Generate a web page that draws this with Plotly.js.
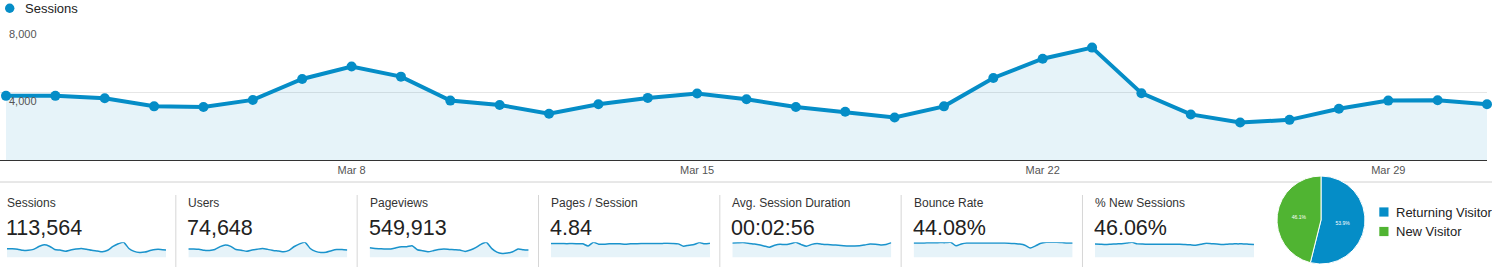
<!DOCTYPE html>
<html>
<head>
<meta charset="utf-8">
<script src="https://cdn.plot.ly/plotly-3.0.1.min.js"></script>
<style>
  html, body { margin: 0; padding: 0; background: #fff; }
  #chart { width: 1492px; height: 275px; }
</style>
</head>
<body>
<div id="chart"></div>
<script>
// ---------------- DATA ----------------
const dates = [
  '2015-03-01','2015-03-02','2015-03-03','2015-03-04','2015-03-05','2015-03-06','2015-03-07',
  '2015-03-08','2015-03-09','2015-03-10','2015-03-11','2015-03-12','2015-03-13','2015-03-14',
  '2015-03-15','2015-03-16','2015-03-17','2015-03-18','2015-03-19','2015-03-20','2015-03-21',
  '2015-03-22','2015-03-23','2015-03-24','2015-03-25','2015-03-26','2015-03-27','2015-03-28',
  '2015-03-29','2015-03-30','2015-03-31'
];
const sessions = [3800,3800,3660,3180,3140,3560,4800,5540,4940,3520,3260,2740,3300,3680,3940,3600,3140,2860,2520,3180,4860,6000,6660,3960,2700,2220,2380,3040,3520,3540,3300];
const users = [2500,2490,2400,2080,2050,2330,3160,3650,3250,2310,2140,1790,2160,2410,2590,2360,2060,1870,1650,2090,3200,3960,4420,2610,1770,1450,1560,1990,2310,2330,2170];
const pageviews = [19980,18600,17910,17225,17225,19980,22050,22050,24110,15850,13780,11710,13780,16540,17225,16540,15850,15160,12400,15160,19980,26870,31000,18600,11020,8270,8960,11710,17225,15850,15160];
const pagesPerSession = [4.87,4.87,4.87,4.82,4.87,4.82,4.76,4.0,5.3,4.65,4.6,4.76,4.82,4.76,4.6,4.76,4.82,4.87,4.87,4.87,4.87,4.92,4.98,4.92,4.76,3.9,4.3,4.55,5.2,4.76,4.98];
const avgDurationSec = [189,191,193,186,176,166,150,133,158,172,167,180,197,167,146,170,180,172,167,163,158,153,150,150,152,163,176,172,163,168,193];
const bounceRate = [45.5,45.5,45.5,46,46,46.5,46.5,47.5,36.4,42.4,45.5,45.5,45.5,45.5,45.5,45.5,45.5,45,44.5,43.5,42,38.4,29.3,36.4,44.5,47.5,47.5,47.5,46.5,45.5,45.5];
const newSessionsPct = [45.7,44.6,43.6,44.6,45.7,46.5,48.5,51,45.7,45,44.6,44.6,44.6,44.6,44.6,44.6,44.6,43.6,42.5,41.4,44.6,47.8,46.5,45.7,43.6,44.6,45.7,45.7,45.7,44.6,43.6];

const metricNames = ['Sessions','Users','Pageviews','Pages / Session','Avg. Session Duration','Bounce Rate','% New Sessions'];
const metricTotals = ['113,564','74,648','549,913','4.84','00:02:56','44.08%','46.06%'];
const metricSeries = [sessions, users, pageviews, pagesPerSession, avgDurationSec, bounceRate, newSessionsPct];

const yTickVals = [4000, 8000];
const yTickText = ['4,000', '8,000'];
const xTickDates = ['2015-03-08','2015-03-15','2015-03-22','2015-03-29'];
const xTickText = ['Mar 8','Mar 15','Mar 22','Mar 29'];

const visitorTypes = ['Returning Visitor', 'New Visitor'];
const visitorShare = [53.9, 46.1];

// ---------------- STYLE / LAYOUT ----------------
const W = 1492, H = 275;
const px = v => v / W;
const py = v => 1 - v / H;
const BLUE = '#058dc7';
const GREEN = '#50b432';
const FILL = 'rgba(5,141,199,0.10)';
const FONT = 'Liberation Sans, Arial, Helvetica, sans-serif';

const traces = [];
traces.push({
  type: 'scatter', mode: 'lines+markers',
  x: dates, y: sessions,
  xaxis: 'x', yaxis: 'y',
  line: { color: BLUE, width: 4 },
  marker: { color: BLUE, size: 10 },
  fill: 'tozeroy', fillcolor: FILL,
  cliponaxis: false, hoverinfo: 'x+y', showlegend: false
});

const layout = {
  width: W, height: H,
  margin: { l: 0, r: 0, t: 0, b: 0, pad: 0 },
  paper_bgcolor: '#fff', plot_bgcolor: 'rgba(0,0,0,0)',
  font: { family: FONT, color: '#333' },
  showlegend: false,
  xaxis: {
    type: 'date', domain: [0, px(1487)],
    range: ['2015-02-28 21:05', '2015-03-31'],
    tickvals: xTickDates, ticktext: xTickText,
    showgrid: false, zeroline: false,
    showline: true, linecolor: '#333', linewidth: 1,
    ticks: '', tickfont: { size: 11, color: '#555' },
    fixedrange: true
  },
  yaxis: {
    domain: [py(160), py(25)], range: [0, 8000],
    tickvals: yTickVals, ticktext: yTickText,
    showgrid: true, gridcolor: '#e6e6e6', gridwidth: 1,
    zeroline: false, showline: false, ticks: '',
    ticklabelposition: 'inside', ticklabeloverflow: 'allow',
    ticklabelshift: 9, ticklabelstandoff: 6,
    tickfont: { size: 11, color: '#555' },
    fixedrange: true
  },
  shapes: [], annotations: []
};

// Top legend (Sessions)
layout.shapes.push({ type: 'circle', xref: 'paper', yref: 'paper',
  x0: px(5), x1: px(14.4), y0: py(13), y1: py(3.6),
  fillcolor: BLUE, line: { width: 0 } });
layout.annotations.push({ xref: 'paper', yref: 'paper', x: px(23), y: py(8.5),
  xanchor: 'left', yanchor: 'middle', showarrow: false,
  text: 'Sessions', font: { size: 13, color: '#222' } });

// Separator under the main chart
layout.shapes.push({ type: 'line', xref: 'paper', yref: 'paper', layer: 'below',
  x0: 0, x1: 1, y0: py(182), y1: py(182), line: { color: '#d0d0d0', width: 1 } });

// Metric blocks with sparklines
const blockStep = 181.33;
metricNames.forEach((name, k) => {
  const left = 5 + k * blockStep;
  const ax = k + 2;
  const xa = 'xaxis' + ax, ya = 'yaxis' + ax;
  const series = metricSeries[k];
  traces.push({
    type: 'scatter', mode: 'lines', x: dates, y: series,
    xaxis: 'x' + ax, yaxis: 'y' + ax,
    line: { color: '#1a93cc', width: 1.5, shape: 'spline', smoothing: 0.6 },
    fill: 'tozeroy', fillcolor: 'rgba(5,141,199,0.10)',
    hoverinfo: 'skip', showlegend: false
  });
  layout[xa] = { domain: [px(left + 2), px(left + 161)], range: [dates[0], dates[dates.length - 1]],
    type: 'date', visible: false, fixedrange: true };
  layout[ya] = { domain: [py(257.5), py(242.3)], range: [0, Math.max(...series)],
    visible: false, fixedrange: true };
  layout.annotations.push({ xref: 'paper', yref: 'paper', x: px(left), y: py(202.5),
    xanchor: 'left', yanchor: 'middle', showarrow: false,
    text: name, font: { size: 12, color: '#333' } });
  layout.annotations.push({ xref: 'paper', yref: 'paper', x: px(left - 1), y: py(228),
    xanchor: 'left', yanchor: 'middle', showarrow: false,
    text: metricTotals[k], font: { size: 21.5, color: '#222' } });
  if (k > 0) {
    layout.shapes.push({ type: 'line', xref: 'paper', yref: 'paper',
      x0: px(left - 10.5), x1: px(left - 10.5), y0: py(195), y1: py(267),
      line: { color: '#d6d6d6', width: 1 } });
  }
});

// Pie
traces.push({
  type: 'pie', labels: visitorTypes, values: visitorShare,
  domain: { x: [px(1277), px(1365)], y: [py(264), py(176)] },
  marker: { colors: [BLUE, GREEN], line: { color: '#ffffff', width: 1 } },
  sort: false, direction: 'clockwise', rotation: 0,
  textinfo: 'percent', texttemplate: '%{value:.1f}%',
  textposition: 'inside', insidetextorientation: 'horizontal',
  textfont: { size: 5, color: '#ffffff' },
  hoverinfo: 'label+percent', showlegend: false
});

// Pie legend
const legendColors = [BLUE, GREEN];
visitorTypes.forEach((lab, i) => {
  const cy = 212 + i * 19.5;
  layout.shapes.push({ type: 'rect', xref: 'paper', yref: 'paper',
    x0: px(1379.3), x1: px(1388.5), y0: py(cy + 4.6), y1: py(cy - 4.6),
    fillcolor: legendColors[i], line: { width: 0 } });
  layout.annotations.push({ xref: 'paper', yref: 'paper', x: px(1394), y: py(cy),
    xanchor: 'left', yanchor: 'middle', showarrow: false,
    text: lab, font: { size: 13, color: '#222' } });
});

Plotly.newPlot('chart', traces, layout, { displayModeBar: false, staticPlot: true });
</script>
</body>
</html>
